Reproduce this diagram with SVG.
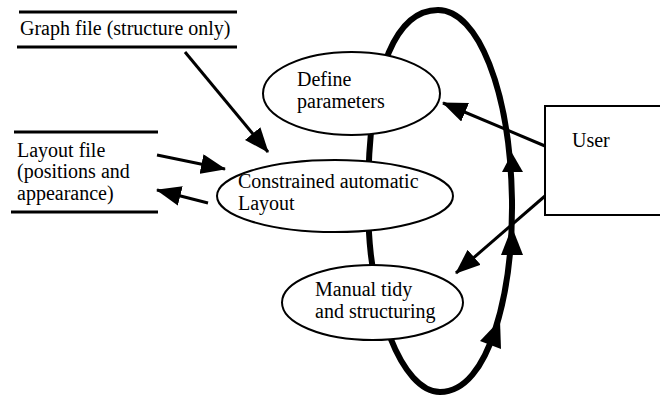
<svg xmlns="http://www.w3.org/2000/svg" width="660" height="397" viewBox="0 0 660 397">
<defs>
<style>
text{font-family:"Liberation Serif","Times New Roman",serif;font-size:20px;fill:#000}
.node{fill:#fff;stroke:#000;stroke-width:2}
.rule{stroke:#000;stroke-width:3;fill:none}
.arrow{stroke:#000;stroke-width:3;fill:none;marker-end:url(#ah)}
.loop{stroke:#000;stroke-width:6;fill:none}
.head{fill:#000;stroke:none}
</style>
<marker id="ah" viewBox="0 0 25 20" markerWidth="25" markerHeight="20" refX="24" refY="10" orient="auto" markerUnits="userSpaceOnUse">
<path d="M0,0 L25,10 L0,20 Z" fill="#000"/>
</marker>
</defs>
<rect width="660" height="397" fill="#fff"/>
<g id="connectors">
<path class="loop" d="M438,10 C478,10 510,90 512,200 C513,290 490,392 440,392 C403,392 368,310 368,200 C368,60 400,10 438,10 Z"/>
<polygon class="head" points="512,153 523,172 502,172"/>
<polygon class="head" points="512,227 523,255 501,255"/>
<polygon class="head" points="500,320 501,349 480,341"/>
<line class="arrow" x1="185" y1="52" x2="268" y2="152"/>
<line class="arrow" x1="157" y1="155" x2="225" y2="169"/>
<line class="arrow" x1="208" y1="203" x2="157" y2="190"/>
<line class="arrow" x1="545" y1="146" x2="443" y2="103"/>
<line class="arrow" x1="545" y1="196" x2="456" y2="273"/>
</g>
<g id="graph-file">
<line class="rule" x1="19" y1="12" x2="237" y2="12"/>
<line class="rule" x1="17" y1="47" x2="237" y2="47"/>
<text x="20" y="35">Graph file (structure only)</text>
</g>
<g id="layout-file">
<line class="rule" x1="14" y1="132" x2="158" y2="132"/>
<line class="rule" x1="11" y1="212" x2="158" y2="212"/>
<text x="17" y="157">Layout file</text>
<text x="17" y="178">(positions and</text>
<text x="17" y="200">appearance)</text>
</g>
<g id="define-parameters">
<ellipse class="node" cx="351.5" cy="93.5" rx="88.5" ry="41.5"/>
<text x="297" y="86">Define</text>
<text x="297" y="108">parameters</text>
</g>
<g id="constrained-layout">
<ellipse class="node" cx="335" cy="196" rx="118" ry="36"/>
<text x="238" y="188">Constrained automatic</text>
<text x="238" y="210">Layout</text>
</g>
<g id="manual-tidy">
<ellipse class="node" cx="372.5" cy="302.5" rx="90.5" ry="37.5"/>
<text x="315" y="296">Manual tidy</text>
<text x="315" y="318">and structuring</text>
</g>
<g id="user">
<rect class="node" x="545" y="106" width="125" height="109"/>
<text x="572" y="147">User</text>
</g>
</svg>
